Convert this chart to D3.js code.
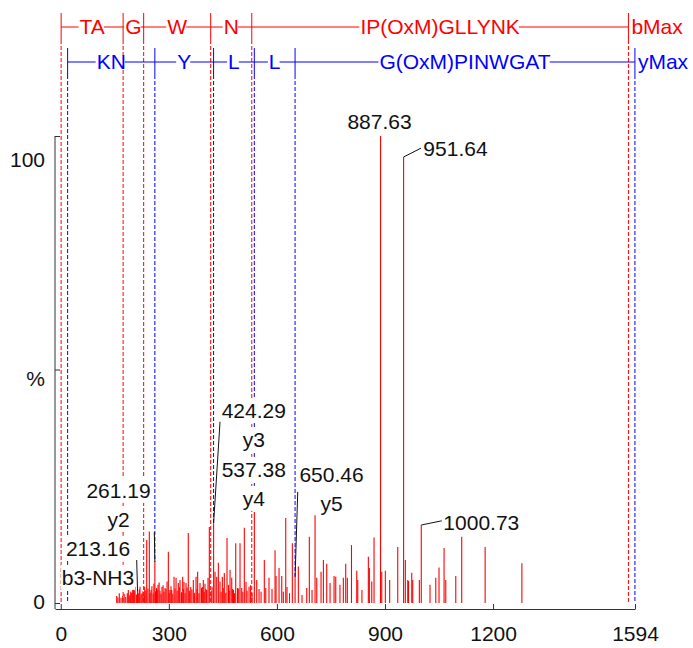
<!DOCTYPE html>
<html><head><meta charset="utf-8">
<script src="https://cdn.jsdelivr.net/npm/d3@7"></script>
<style>
body{margin:0;background:#fff}
svg{display:block}
text{font-family:"Liberation Sans",Arial,Helvetica,sans-serif}
</style>
</head><body>
<svg id="chart" width="693" height="648"></svg>
<script>
// ---------------- DATA ----------------
const peakMz = [
155.3,158.5,162.5,167.2,172,176,180.3,184.7,187.5,190,192.2,194.2,197,199.7,201.4,204,206.1,210,213.16,215.3,218,220,223,225.5,228,231.2,233,236,238.6,242,245.8,248,250.5,253,256.5,258.5,261.19,263,265.8,268,270,273,275.5,278.5,281,284,286.5,289.4,292,295,298.6,301,303.3,306,308,311,314.4,317,320,323,326.3,329,331,335,338.5,340,342,345,347.7,350.5,354,357,360.8,364,368,371.5,375.5,378,380,383.5,386.5,390.7,393,395.7,398,400.4,403,405,408.8,412.4,417.3,420,424.29,428.2,432.9,437.4,442,445,448.5,451,454,458,461.5,465.7,467.8,469.9,474.6,477,479.6,482.5,485.7,490.7,494,497.6,502.3,505.5,509.5,514.3,517,522.6,527,531,537.38,544,550.4,556,565,569,578,586.4,594.8,597.6,605.9,613.4,617.8,624.5,628,635,642.8,650.46,659.5,669.7,682.8,690,697.5,705.9,710.6,722.5,729,738.3,747.5,758.6,763.3,775,784.4,791,795.5,807,821.6,824.4,836,853.8,856.6,863.3,869.6,887.63,891,901,913,935.4,951.64,956.5,963.2,965.4,974.3,977,995.4,1000.73,1025,1041,1050,1064,1068.7,1096.5,1113,1178,1280
];
const peakInt = [
1.5,1.2,2.1,1.1,1.5,2.0,1.3,2.1,2.8,1.4,1.7,2.4,2.2,2.8,3.5,2.6,3.5,1.8,2.4,2.1,2.9,3.5,1.9,2.1,2.5,1.6,3.5,2.7,13.5,3.1,15.3,2.2,2.8,3.6,2.0,4.2,8.8,2.5,3.2,2.9,3.9,4.4,2.6,2.0,3.4,3.8,2.4,3.2,3.0,4.6,11,2.2,2.8,3.6,2.8,2.0,5.6,3.1,5.4,2.6,4.3,3.4,4.9,2.3,5.6,3.0,4.5,2.1,4.3,3.3,15,2.6,3.4,2.9,4.9,2.2,5.6,3.0,6.7,2.1,4.3,3.2,3.4,4.9,2.4,4.1,3.0,2.8,5.4,16.3,2.6,3.5,17.1,6.7,5.6,8.6,4.6,2.4,5.6,3.2,6.4,2.2,13.9,3.9,2.6,7.1,5.4,3.0,2.8,2.1,12.8,3.2,3.1,12.8,3.2,2.4,16.1,4.5,2.6,3.5,3.8,2.2,19.5,4.9,3.0,2.4,9.2,3.2,5.4,3.0,11.3,5.8,7.5,5.8,2.4,18.2,3.4,2.1,12.8,5.6,7.8,1.7,3.2,14.2,2.8,18.8,5.4,6.7,9.2,8.4,4.3,5.8,5.6,3.9,5.4,8.4,5.4,12.4,6.9,4.9,2.8,9.9,7.5,4.6,14,100,6.7,6.9,4.9,12,95.5,9.2,4.9,4.7,6.5,4.9,4.9,16.7,3.9,5.4,7.6,11.8,4.9,5.8,14.2,12,8.5
];

const bIonMz = [1.01, 173.09, 230.11, 416.19, 530.23, 1575.80];
const bIonLabels = ["TA", "G", "W", "N", "IP(OxM)GLLYNK"];
const bMaxLabel = "bMax";
const yIonMz = [19.02, 261.16, 424.22, 537.30, 650.39, 1593.81];
const yIonLabels = ["KN", "Y", "L", "L", "G(OxM)PINWGAT"];
const yMaxLabel = "yMax";

const xTickValues = [0, 300, 600, 900, 1200, 1594];
const yTickValues = [0, 50, 100];
const yTickLabels = ["0", "%", "100"];

// peak annotations
const annMz = [887.63, 951.64, 1000.73, 424.29, 537.38, 650.46, 261.19, 213.16];
const annLines = [["887.63"], ["951.64"], ["1000.73"], ["424.29", "y3"], ["537.38", "y4"], ["650.46", "y5"], ["261.19", "y2"], ["213.16", "b3-NH3"]];
const annLabelMz = [884.9, 1006.5, 1062, 535.7, 535.7, 751.6, 160.3, 103.4];
const annLabelInt = [101.5, 95.7, 15.6, 39.6, 27, 25.9, 22.5, 10.1];
const annAnchor = ["middle", "start", "start", "middle", "middle", "middle", "middle", "middle"];
const annLeaderMz = [null, 1000, 1057.6, 442.1, null, 657.8, 259.7, 210.8];
const annLeaderInt = [null, 97.4, 17.6, 38.8, null, 23.8, 15.2, 9.2];

// ---------------- LAYOUT ----------------
const L = {left: 55, right: 635, axisY: 609, base: 603, top: 136,
  redRow: 27, blueRow: 62, tickUp: 14, tickDown: 13, font: 21, lineGap: 29,
  yTickDy: {0: 5, 50: 15.5, 100: 30.7}};
const RED = "#ff0000", BLUE = "#0000ff", INK = "#111", AXIS = "#333";

const svg = d3.select("#chart");
const x = d3.scaleLinear().domain([-16, 1594]).range([L.left, L.right]);
const y = d3.scaleLinear().domain([0, 100]).range([L.base, L.top]);

const peaks = peakMz.map((m, i) => ({mz: m, int: peakInt[i]}));
function matchPeak(m) {
  let best = null;
  peaks.forEach(p => { if (Math.abs(p.mz - m) <= 0.3 && (!best || p.int > best.int)) best = p; });
  return best;
}
function intOf(m) { const p = peaks.find(q => Math.abs(q.mz - m) < 0.01); return p ? p.int : 0; }

// ---------------- PEAKS ----------------
svg.append("g").selectAll("line").data(peaks).join("line")
  .attr("x1", d => x(d.mz)).attr("x2", d => x(d.mz))
  .attr("y1", y(0)).attr("y2", d => y(d.int))
  .attr("stroke", RED).attr("stroke-width", 1.1);

// ---------------- LADDER DASHED LINES ----------------
function dashed(ions, rowY, color) {
  svg.append("g").selectAll("line").data(ions).join("line")
    .attr("x1", d => x(d)).attr("x2", d => x(d))
    .attr("y1", rowY + L.tickDown)
    .attr("y2", d => { const p = matchPeak(d); return p ? y(p.int) : y(0); })
    .attr("stroke", color).attr("stroke-width", 1).attr("stroke-dasharray", "4,2");
}
dashed(bIonMz, L.redRow, RED);
dashed(yIonMz, L.blueRow, BLUE);

// ---------------- AXES ----------------
const xAxis = d3.axisBottom(x).tickValues(xTickValues).tickFormat(d3.format("d"))
  .tickSizeInner(-5).tickSizeOuter(0).tickPadding(17);
const gx = svg.append("g").attr("transform", `translate(0,${L.axisY})`).call(xAxis);
gx.select(".domain").attr("stroke", AXIS);
gx.selectAll(".tick line").attr("stroke", AXIS);
gx.selectAll(".tick text").attr("fill", INK).style("font-size", L.font + "px")
  .style("font-family", '"Liberation Sans",Arial,sans-serif');

const yAxis = d3.axisLeft(y).tickValues(yTickValues)
  .tickFormat(d => yTickLabels[yTickValues.indexOf(d)])
  .tickSizeInner(-5).tickSizeOuter(0).tickPadding(10);
const gy = svg.append("g").attr("transform", `translate(${L.left},0)`).call(yAxis);
gy.select(".domain").remove();
gy.append("line").attr("x1", 0).attr("x2", 0).attr("y1", L.top).attr("y2", L.axisY).attr("stroke", AXIS);
gy.selectAll(".tick line").attr("stroke", AXIS);
gy.selectAll(".tick text").attr("fill", INK).style("font-size", L.font + "px")
  .style("font-family", '"Liberation Sans",Arial,sans-serif')
  .attr("dy", d => L.yTickDy[d]);

// ---------------- LADDER ROWS ----------------
function ladderRow(ions, labels, maxLabel, rowY, color) {
  const g = svg.append("g");
  g.append("line").attr("x1", x(ions[0])).attr("x2", x(ions[ions.length - 1]))
    .attr("y1", rowY).attr("y2", rowY).attr("stroke", color).attr("stroke-width", 1);
  g.selectAll("line.tk").data(ions).join("line").attr("class", "tk")
    .attr("x1", d => x(d)).attr("x2", d => x(d))
    .attr("y1", rowY - L.tickUp).attr("y2", rowY + L.tickDown)
    .attr("stroke", color).attr("stroke-width", 1);
  labels.forEach((lab, i) => {
    const cx = (x(ions[i]) + x(ions[i + 1])) / 2;
    const t = g.append("text").attr("x", cx).attr("y", rowY + 7).attr("text-anchor", "middle")
      .attr("fill", color).style("font-size", L.font + "px").text(lab);
    const bb = t.node().getBBox();
    g.insert("rect", () => t.node())
      .attr("x", bb.x - 1).attr("y", rowY - 3).attr("width", bb.width).attr("height", 6)
      .attr("fill", "#fff");
  });
  g.append("text").attr("x", x(ions[ions.length - 1]) + 3).attr("y", rowY + 7)
    .attr("fill", color).style("font-size", L.font + "px").text(maxLabel);
}
ladderRow(bIonMz, bIonLabels, bMaxLabel, L.redRow, RED);
ladderRow(yIonMz, yIonLabels, yMaxLabel, L.blueRow, BLUE);

// ---------------- ANNOTATIONS ----------------
const gBox = svg.append("g"), gLead = svg.append("g"), gTxt = svg.append("g");
annMz.forEach((m, i) => {
  const lx = x(annLabelMz[i]), ly = y(annLabelInt[i]);
  annLines[i].forEach((s, j) => {
    const t = gTxt.append("text").attr("x", lx).attr("y", ly + j * L.lineGap)
      .attr("text-anchor", annAnchor[i]).attr("fill", INK)
      .style("font-size", L.font + "px").text(s);
    const bb = t.node().getBBox();
    gBox.append("rect").attr("x", bb.x - 1).attr("y", bb.y - 1)
      .attr("width", bb.width + 2).attr("height", bb.height + 2).attr("fill", "#fff");
  });
  if (annLeaderMz[i] !== null) {
    gLead.append("line").attr("x1", x(m)).attr("y1", y(intOf(m)))
      .attr("x2", x(annLeaderMz[i])).attr("y2", y(annLeaderInt[i]))
      .attr("stroke", INK).attr("stroke-width", 1);
  }
});
</script>
</body></html>
